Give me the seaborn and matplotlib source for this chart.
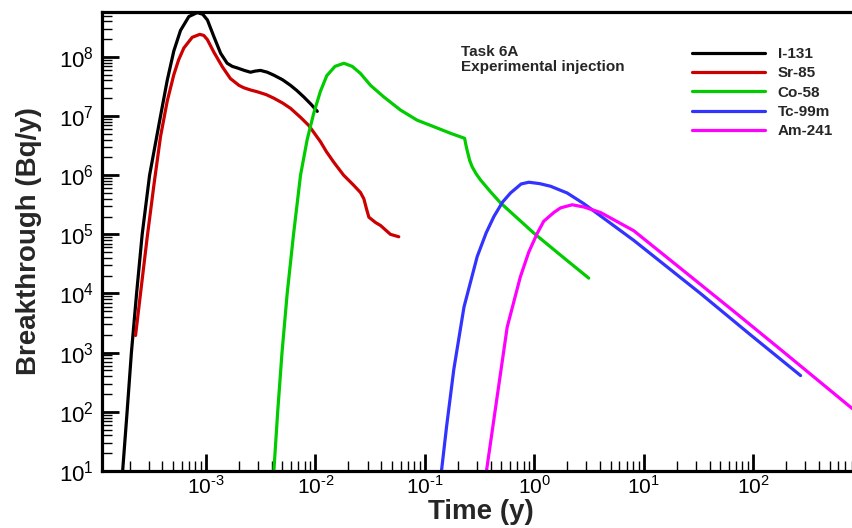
import numpy as np
import pandas as pd
import matplotlib.pyplot as plt
import seaborn as sns
from matplotlib.ticker import LogLocator, NullFormatter, FuncFormatter

sns.set_style("white")
plt.rcParams["font.family"] = ["Liberation Sans", "DejaVu Sans"]
plt.rcParams["mathtext.fontset"] = "custom"
plt.rcParams["mathtext.rm"] = "Liberation Sans"
plt.rcParams["axes.unicode_minus"] = False

# breakthrough curves (time in years, Bq/y)
i131_t = [1.73e-4, 1.90e-4, 2.08e-4, 2.32e-4, 2.61e-4, 3.05e-4, 3.84e-4, 4.42e-4, 5.08e-4,
          5.85e-4, 6.97e-4, 8.32e-4, 9.33e-4, 1.03e-3, 1.18e-3, 1.36e-3, 1.56e-3, 1.74e-3,
          1.93e-3, 2.24e-3, 2.55e-3, 2.82e-3, 3.15e-3, 3.63e-3, 4.17e-3, 5.01e-3, 5.92e-3,
          6.76e-3, 7.83e-3, 9.12e-3, 1.04e-2]
i131_q = [1e1, 1e2, 1e3, 1e4, 1e5, 1e6, 1e7, 4.0e7, 1.26e8,
          2.8e8, 4.8e8, 5.6e8, 5.25e8, 4.2e8, 2.2e8, 1.15e8, 7.8e7, 6.9e7,
          6.5e7, 5.9e7, 5.5e7, 5.75e7, 5.9e7, 5.5e7, 4.9e7, 4.1e7, 3.3e7,
          2.7e7, 2.1e7, 1.58e7, 1.2e7]

sr85_t = [2.27e-4, 2.52e-4, 2.90e-4, 3.35e-4, 3.84e-4, 4.42e-4, 5.08e-4, 5.62e-4, 6.27e-4,
          7.48e-4, 8.77e-4, 9.55e-4, 1.03e-3, 1.18e-3, 1.41e-3, 1.67e-3, 2.0e-3, 2.22e-3,
          2.56e-3, 2.94e-3, 3.55e-3, 4.17e-3, 5.01e-3, 5.92e-3, 7.31e-3, 8.71e-3, 1.11e-2,
          1.26e-2, 1.47e-2, 1.81e-2, 2.23e-2, 2.58e-2, 2.77e-2, 2.93e-2, 3.08e-2, 3.55e-2,
          3.94e-2, 4.85e-2, 5.78e-2]
sr85_q = [1.95e3, 1e4, 8.9e4, 7.1e5, 4.5e6, 1.78e7, 5.0e7, 8.9e7, 1.41e8,
          2.14e8, 2.4e8, 2.3e8, 1.95e8, 1.2e8, 6.8e7, 4.3e7, 3.3e7, 3.0e7,
          2.75e7, 2.57e7, 2.3e7, 2.0e7, 1.66e7, 1.35e7, 9.5e6, 6.9e6, 3.7e6,
          2.5e6, 1.66e6, 1.0e6, 6.8e5, 5.1e5, 4.0e5, 2.7e5, 1.95e5, 1.58e5,
          1.41e5, 1.0e5, 9.1e4]

co58_t = [4.17e-3, 4.52e-3, 4.95e-3, 5.52e-3, 6.31e-3, 7.31e-3, 8.41e-3, 9.66e-3, 1.11e-2,
          1.27e-2, 1.51e-2, 1.82e-2, 2.17e-2, 2.58e-2, 3.19e-2, 4.22e-2, 6.0e-2, 8.51e-2,
          0.121, 0.172, 0.231, 0.237, 0.244, 0.257, 0.271, 0.295, 0.323, 0.398,
          0.492, 0.991, 2.0, 3.15]
co58_q = [1e1, 1e2, 1e3, 1e4, 1e5, 1e6, 4.0e6, 1.12e7, 2.6e7,
          4.8e7, 6.9e7, 7.8e7, 6.9e7, 5.25e7, 3.3e7, 2.1e7, 1.26e7, 8.5e6,
          6.6e6, 5.1e6, 4.2e6, 3.3e6, 2.6e6, 1.78e6, 1.38e6, 1.05e6, 8.3e5, 5.25e5,
          3.4e5, 1.05e5, 3.6e4, 1.82e4]

tc99m_t = [0.142, 0.158, 0.184, 0.228, 0.301, 0.363, 0.428, 0.513, 0.607, 0.759,
           0.893, 1.12, 1.41, 2.0, 2.84, 8.13, 33.1, 94.8, 272]
tc99m_q = [1e1, 56, 5.2e2, 5.9e3, 4.2e4, 1.05e5, 2.0e5, 3.5e5, 5.0e5, 7.1e5,
           7.6e5, 7.2e5, 6.5e5, 5.0e5, 3.3e5, 7.9e4, 1.0e4, 2.0e3, 4.1e2]

am241_t = [0.366, 0.452, 0.566, 0.746, 0.891, 1.06, 1.22, 1.51, 1.74, 2.22,
           2.84, 4.04, 8.13, 23.3, 66.7, 191, 778, 1000]
am241_q = [1e1, 1.51e2, 2.7e3, 1.9e4, 5.0e4, 1.02e5, 1.66e5, 2.34e5, 2.8e5, 3.16e5,
           2.9e5, 2.34e5, 1.15e5, 2.4e4, 5.0e3, 1.02e3, 1.2e2, 83]

names = ["I-131", "Sr-85", "Co-58", "Tc-99m", "Am-241"]
colors = ["#000000", "#CC0000", "#00CC00", "#3333FF", "#FF00FF"]

frames = []
for name, t, q in zip(names,
                      [i131_t, sr85_t, co58_t, tc99m_t, am241_t],
                      [i131_q, sr85_q, co58_q, tc99m_q, am241_q]):
    frames.append(pd.DataFrame({"time": t, "bq": q, "nuclide": name}))
df = pd.concat(frames, ignore_index=True)


def pow10_label(v, pos):
    # short hyphen in the exponent, like the original export
    k = int(round(np.log10(v)))
    if k < 0:
        return r"$10^{\text{-}%d}$" % (-k)
    return r"$10^{%d}$" % k


fig = plt.figure(figsize=(8.52, 5.28), dpi=100)
# right edge runs off the canvas like in the original export
ax = fig.add_axes([0.1197, 0.108, 0.8897, 0.869])
ax.set_xscale("log")
ax.set_yscale("log")

sns.lineplot(data=df, x="time", y="bq", hue="nuclide", hue_order=names,
             palette=colors, estimator=None, sort=False, linewidth=2.3,
             legend=False, ax=ax)

ax.set_xlim(1.12e-4, 950)
ax.set_ylim(10, 5.7e8)

ax.xaxis.set_major_locator(LogLocator(base=10, numticks=20))
ax.xaxis.set_minor_locator(LogLocator(base=10, subs=np.arange(2, 10), numticks=20))
ax.yaxis.set_major_locator(LogLocator(base=10, numticks=20))
ax.yaxis.set_minor_locator(LogLocator(base=10, subs=np.arange(2, 10), numticks=20))
ax.xaxis.set_major_formatter(FuncFormatter(pow10_label))
ax.yaxis.set_major_formatter(FuncFormatter(pow10_label))
ax.xaxis.set_minor_formatter(NullFormatter())
ax.yaxis.set_minor_formatter(NullFormatter())

for s in ["left", "bottom", "top"]:
    ax.spines[s].set_linewidth(2.3)
    ax.spines[s].set_color("black")
ax.spines["right"].set_visible(False)

ax.tick_params(which="both", direction="in", bottom=True, left=True,
               top=False, right=False, colors="black")
ax.tick_params(which="major", length=12, width=2.0)
ax.tick_params(which="minor", length=7, width=1.0)
ax.tick_params(axis="x", which="major", labelsize=15, pad=3)
ax.tick_params(axis="y", which="major", labelsize=16, pad=6)

ax.set_xlabel("Time (y)", fontsize=20, fontweight="bold", labelpad=1)
ax.set_ylabel("Breakthrough (Bq/y)", fontsize=20, fontweight="bold", labelpad=12)

fig.text(461 / 852, 1 - 45 / 528, "Task 6A\nExperimental injection",
         fontsize=11, fontweight="bold", va="top", linespacing=1.05)

ax.legend(ax.lines, names, loc="upper left", bbox_to_anchor=(692 / 852, 1 - 47 / 528),
          bbox_transform=fig.transFigure, frameon=False, borderpad=0,
          borderaxespad=0, handlelength=4.8, handletextpad=0.8, labelspacing=0.35,
          prop={"size": 11, "weight": "bold"})

fig.savefig("out.png", dpi=100)
